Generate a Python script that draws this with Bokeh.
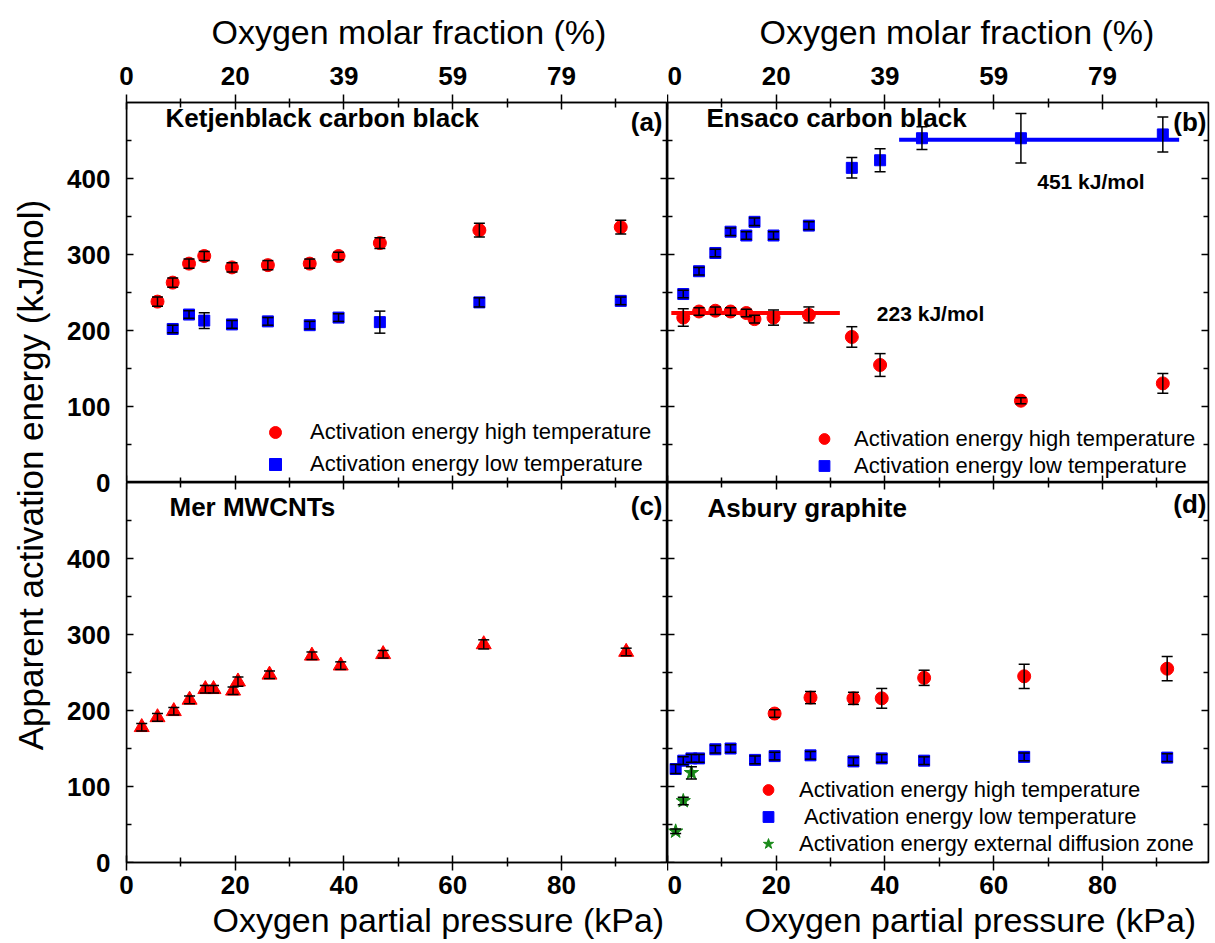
from bokeh.plotting import figure
from bokeh.models import (Range1d, LinearAxis, FixedTicker, Label, Legend, LegendItem,
                          ColumnDataSource, Whisker, TeeHead, Title)
from bokeh.layouts import row, column
from bokeh.embed import file_html
from bokeh.resources import INLINE

# ---------------- data ----------------
x_major = [0, 20, 40, 60, 80]
x_minor = [10, 30, 50, 70, 90]
y_major = [0, 100, 200, 300, 400]
y_minor = [50, 150, 250, 350, 450]
top_tick_values = [0, 20, 40, 60, 80]
top_tick_labels = ["0", "20", "39", "59", "79"]
# left tick labels of the two stacked rows (lower panel 0-500, upper panel 500-1000)
left_tick_values = [0, 100, 200, 300, 400, 500, 600, 700, 800, 900]
left_tick_labels = ["0", "100", "200", "300", "400", "0", "100", "200", "300", "400"]

# (a) Ketjenblack carbon black
ka_x_high = [5.7, 8.5, 11.5, 14.3, 19.4, 26.0, 33.7, 39.0, 46.6, 64.9, 90.9]
ka_high = [238, 263, 288, 298, 283, 286, 288, 298, 315, 332, 336]
ka_high_err = [6, 6, 6, 6, 6, 6, 6, 5, 7, 9, 9]
ka_x_low = [8.5, 11.5, 14.3, 19.4, 26.0, 33.7, 39.0, 46.6, 64.9, 90.9]
ka_low = [202, 221, 213, 208, 212, 207, 217, 211, 237, 239]
ka_low_err = [5, 5, 10.5, 5, 5, 5, 5, 14.5, 6, 5]

# (b) Ensaco carbon black
eb_x_low = [2.9, 5.8, 8.8, 11.6, 14.5, 16.0, 19.5, 26.0, 33.9, 39.1, 46.8, 65.0, 91.1]
eb_low = [248, 278, 302, 330, 325, 343, 325, 338, 414, 424, 453, 453, 458]
eb_low_err = [5, 5, 5, 5, 5, 5, 5, 5, 13.5, 15, 15, 32.5, 23]
eb_x_high = [2.9, 5.8, 8.8, 11.6, 14.5, 16.0, 19.5, 26.0, 33.9, 39.1, 65.0, 91.1]
eb_high = [217, 225, 226, 225, 223, 215, 217, 220.5, 191.5, 154.6, 107.6, 130.4]
eb_high_err = [11.5, 5, 5, 5, 5, 5, 10, 10.5, 13.5, 15, 4, 13]
eb_fit_high_x = [0.7, 31.7]
eb_fit_high_y = [223, 223]
eb_fit_low_x = [42.6, 94.1]
eb_fit_low_y = [451, 451]

# (c) Mer MWCNTs
mc_x = [2.8, 5.7, 8.7, 11.6, 14.5, 16.0, 19.6, 20.5, 26.3, 34.1, 39.4, 47.2, 65.7, 91.9]
mc = [178, 191, 199, 214, 228, 228, 226, 238, 247, 272, 259, 274, 287, 277]
mc_err = [5, 5, 5, 5, 5, 5, 5, 6, 5, 5, 5, 5, 6, 5]

# (d) Asbury graphite
ag_x_high = [19.7, 26.3, 34.2, 39.4, 47.2, 65.6, 91.9]
ag_high = [196, 217, 216, 216, 243, 245, 255]
ag_high_err = [5, 8, 8, 13, 10, 16, 16]
ag_x_low = [1.5, 2.9, 4.4, 5.8, 8.8, 11.6, 16.1, 19.7, 26.3, 34.2, 39.4, 47.2, 65.6, 91.9]
ag_low = [123, 134, 137, 137, 149, 150, 135, 140, 141, 133, 137, 134, 139, 138]
ag_low_err = [6, 5, 5, 5, 5, 5, 5, 5, 5, 5, 5, 5, 5, 5]
ag_x_ext = [1.5, 2.9, 4.4]
ag_ext = [41, 81, 118]
ag_ext_err = [3, 5, 8]

# ---------------- styling ----------------
FONT = "Liberation Sans"
FW, FH = 541, 380
X_MAX, Y_MAX = 99.5, 500
RED, BLUE, GREEN = "#ff0000", "#0000ff", "#1a8a1a"
TOP_B, BOT_B = 102, 80
TICK_FS = "26px"


def axis_title(text, offset, below=False):
    return Title(text=text, align="left", offset=offset, text_font=FONT,
                 text_font_size="34px", text_font_style="normal", text_color="black",
                 vertical_align="middle", standoff=6 if below else 23)


def base_fig(bl, br, bt, bb, title=None, below=False):
    p = figure(frame_width=FW, frame_height=FH, x_range=Range1d(0, X_MAX),
               y_range=Range1d(0, Y_MAX), x_axis_location=None, y_axis_location=None,
               output_backend="svg", toolbar_location=None,
               title_location="below" if below else "above",
               min_border_left=bl, min_border_right=br, min_border_top=bt, min_border_bottom=bb)
    if title is not None:
        p.title = title
    p.grid.visible = False
    p.outline_line_color = "black"
    p.outline_line_width = 1.5
    p.background_fill_color = "white"
    p.border_fill_color = "white"
    return p


def add_axis(p, kind, side, labeled, fixed=None, overrides=None, standoff=8):
    if kind == "x":
        ticker = FixedTicker(ticks=x_major, minor_ticks=x_minor)
    else:
        ticker = FixedTicker(ticks=y_major, minor_ticks=y_minor)
    ax = LinearAxis(ticker=ticker)
    if fixed is not None:
        ax.fixed_location = fixed
    ax.axis_line_color = "black"
    ax.axis_line_width = 1.5
    ax.major_tick_line_color = "black"
    ax.major_tick_line_width = 1.5
    ax.minor_tick_line_color = "black"
    ax.minor_tick_line_width = 1.5
    ax.major_tick_in = 7
    ax.major_tick_out = 8
    ax.minor_tick_in = 5
    ax.minor_tick_out = 4
    if labeled:
        ax.major_label_text_font = FONT
        ax.major_label_text_font_style = "bold"
        ax.major_label_text_font_size = TICK_FS
        ax.major_label_text_color = "black"
        ax.major_label_standoff = standoff
        if overrides:
            ax.major_label_overrides = overrides
    else:
        ax.major_label_text_color = None
    p.add_layout(ax, side)
    return ax


def series(p, xs, ys, errs, marker, color, size):
    src = ColumnDataSource(dict(x=xs, y=ys,
                                upper=[a + b for a, b in zip(ys, errs)],
                                lower=[a - b for a, b in zip(ys, errs)]))
    r = p.scatter("x", "y", source=src, marker=marker, size=size,
                  fill_color=color, line_color=color)
    w = Whisker(source=src, base="x", upper="upper", lower="lower",
                line_color="black", line_width=1.5, level="overlay",
                upper_head=TeeHead(size=11, line_color="black", line_width=1.5),
                lower_head=TeeHead(size=11, line_color="black", line_width=1.5))
    p.add_layout(w)
    return r


def text(p, x, y, s, size, bold=True, align="left", units="screen"):
    p.add_layout(Label(x=x, y=y, x_units=units, y_units=units, text=s,
                       text_font=FONT, text_font_size=size,
                       text_font_style="bold" if bold else "normal",
                       text_align=align, text_baseline="middle", text_color="black"))


def legend(p, items, loc, spacing, standoff, gh):
    lg = Legend(items=[LegendItem(label=l, renderers=[r]) for l, r in items],
                location=loc, orientation="vertical", padding=0, margin=0,
                spacing=spacing, glyph_width=30, glyph_height=gh, label_height=gh,
                label_standoff=standoff, label_text_font=FONT, label_text_font_size="22px",
                label_text_color="black", border_line_color=None, background_fill_alpha=0)
    p.add_layout(lg)


top_over = {v: l for v, l in zip(top_tick_values, top_tick_labels)}

# ---------------- panel a ----------------
pa = base_fig(8, 0, TOP_B, 0, title=axis_title("Oxygen molar fraction (%)", 85))
add_axis(pa, "y", "left", False, fixed=0)
add_axis(pa, "x", "above", True, overrides=top_over, standoff=10)
add_axis(pa, "x", "below", False, fixed=0)
add_axis(pa, "y", "right", False, fixed=X_MAX)
ra1 = series(pa, ka_x_high, ka_high, ka_high_err, "circle", RED, 13)
ra2 = series(pa, ka_x_low, ka_low, ka_low_err, "square", BLUE, 11)
text(pa, 39, 365, "Ketjenblack carbon black", "26px")
text(pa, 536, 361, "(a)", "26px", align="right")
legend(pa, [("Activation energy high temperature", ra1),
            ("Activation energy low temperature", ra2)], (134, 3), 2, 20, 30)

# ---------------- panel b ----------------
pb = base_fig(0, 2, TOP_B, 0, title=axis_title("Oxygen molar fraction (%)", 92))
add_axis(pb, "x", "above", True, overrides=top_over, standoff=10)
add_axis(pb, "y", "left", False, fixed=0)
add_axis(pb, "x", "below", False, fixed=0)
add_axis(pb, "y", "right", False, fixed=X_MAX)
pb.line(eb_fit_high_x, eb_fit_high_y, line_color=RED, line_width=4)
pb.line(eb_fit_low_x, eb_fit_low_y, line_color=BLUE, line_width=4)
rb1 = series(pb, eb_x_high, eb_high, eb_high_err, "circle", RED, 13)
rb2 = series(pb, eb_x_low, eb_low, eb_low_err, "square", BLUE, 11)
text(pb, 39, 365, "Ensaco carbon black", "26px")
text(pb, 539, 361, "(b)", "26px", align="right")
text(pb, 38.5, 223, "223 kJ/mol", "21px", units="data")
text(pb, 68, 396, "451 kJ/mol", "21px", units="data")
legend(pb, [("Activation energy high temperature", rb1),
            ("Activation energy low temperature", rb2)], (142, 3), 0, 15, 27)

# ---------------- panel c ----------------
pc = base_fig(8, 0, 0, BOT_B, title=axis_title("Oxygen partial pressure (kPa)", 86, True), below=True)
add_axis(pc, "y", "left", False, fixed=0)
add_axis(pc, "x", "below", True, standoff=5)
add_axis(pc, "x", "above", False, fixed=Y_MAX)
add_axis(pc, "y", "right", False, fixed=X_MAX)
series(pc, mc_x, mc, mc_err, "triangle", RED, 15)
text(pc, 43, 356, "Mer MWCNTs", "26px")
text(pc, 536, 357, "(c)", "26px", align="right")

# ---------------- panel d ----------------
pd_ = base_fig(0, 2, 0, BOT_B, title=axis_title("Oxygen partial pressure (kPa)", 77, True), below=True)
add_axis(pd_, "x", "below", True, standoff=5)
add_axis(pd_, "y", "left", False, fixed=0)
add_axis(pd_, "x", "above", False, fixed=Y_MAX)
add_axis(pd_, "y", "right", False, fixed=X_MAX)
rd1 = series(pd_, ag_x_high, ag_high, ag_high_err, "circle", RED, 13)
rd2 = series(pd_, ag_x_low, ag_low, ag_low_err, "square", BLUE, 11)
rd3 = series(pd_, ag_x_ext, ag_ext, ag_ext_err, "star", GREEN, 15)
text(pd_, 40, 355, "Asbury graphite", "26px")
text(pd_, 539, 359, "(d)", "26px", align="right")
legend(pd_, [("Activation energy high temperature", rd1),
             (" Activation energy low temperature", rd2),
             ("Activation energy external diffusion zone", rd3)], (86, 5), 0, 16, 27)

# ---------------- shared left tick labels + y title ----------------
LAB_BOTTOM = -25
lab_frame_h = round((2 * Y_MAX - LAB_BOTTOM) * FH / Y_MAX)
lab = figure(frame_width=118, frame_height=lab_frame_h, x_range=Range1d(0, 118),
             y_range=Range1d(LAB_BOTTOM, 2 * Y_MAX), x_axis_location=None, y_axis_location=None,
             toolbar_location=None, output_backend="svg", min_border_left=0,
             min_border_right=0, min_border_top=TOP_B,
             min_border_bottom=TOP_B + 2 * FH + BOT_B - TOP_B - lab_frame_h,
             outline_line_color=None)
lab.grid.visible = False
lax = LinearAxis(ticker=FixedTicker(ticks=left_tick_values, minor_ticks=[]),
                 fixed_location=118)
lax.major_label_overrides = {v: l for v, l in zip(left_tick_values, left_tick_labels)}
lax.axis_line_color = None
lax.major_tick_line_color = None
lax.minor_tick_line_color = None
lax.major_tick_in = 0
lax.major_tick_out = 0
lax.major_label_standoff = 8
lax.major_label_text_font = FONT
lax.major_label_text_font_style = "bold"
lax.major_label_text_font_size = TICK_FS
lax.major_label_text_color = "black"
lab.add_layout(lax, "left")
lab.add_layout(Label(x=30, y=lab_frame_h - 372.5, x_units="screen", y_units="screen",
                     text="Apparent activation energy (kJ/mol)", angle=90, angle_units="deg",
                     text_align="center", text_baseline="middle", text_font=FONT,
                     text_font_size="35px", text_color="black"))

layout = row(lab, column(row(pa, pb), row(pc, pd_)))
open("out.html", "w").write(file_html(layout, INLINE))
